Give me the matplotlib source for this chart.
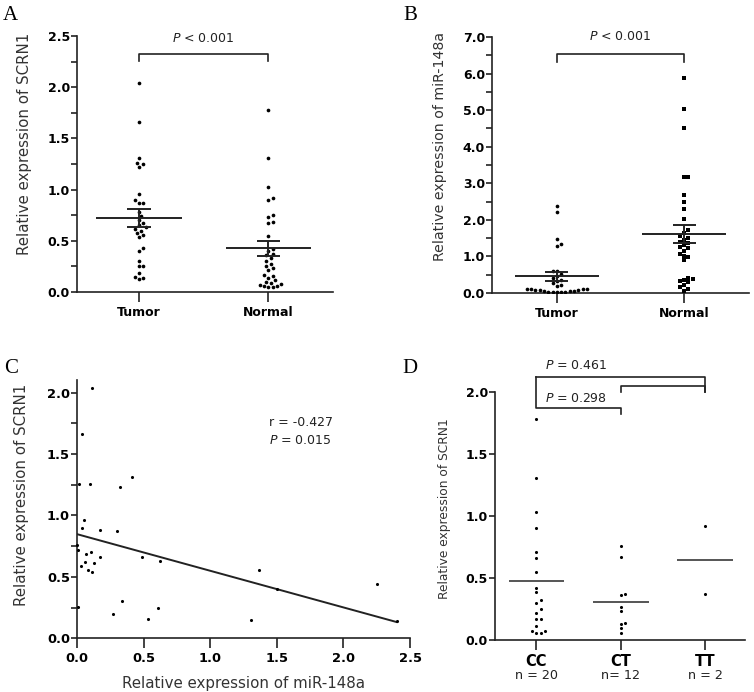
import numpy as np
import matplotlib.pyplot as plt
from matplotlib.ticker import MultipleLocator

plt.rcParams['font.family'] = 'DejaVu Sans'
plt.rcParams['mathtext.fontset'] = 'dejavusans'

# A: SCRN1 expression, tumor vs normal
scrn1_tumor = [2.04, 1.66, 1.31, 1.26, 1.25, 1.22, 0.96, 0.90, 0.87, 0.87,
               0.78, 0.74, 0.70, 0.67, 0.65, 0.63, 0.62, 0.60, 0.58, 0.56,
               0.54, 0.43, 0.40, 0.30, 0.25, 0.25, 0.19, 0.15, 0.14, 0.13]
scrn1_normal = [1.78, 1.31, 1.03, 0.92, 0.90, 0.75, 0.73, 0.68, 0.67, 0.55,
                0.42, 0.40, 0.37, 0.36, 0.33, 0.30, 0.27, 0.25, 0.23, 0.21,
                0.17, 0.16, 0.14, 0.12, 0.10, 0.09, 0.08, 0.07, 0.06, 0.06,
                0.05, 0.05]

# B: miR-148a expression, tumor vs normal
mir_tumor = [2.38, 2.22, 1.48, 1.35, 1.28, 0.60, 0.60, 0.52, 0.46, 0.40,
             0.36, 0.33, 0.28, 0.22, 0.18, 0.12, 0.11, 0.10, 0.10, 0.09,
             0.08, 0.07, 0.06, 0.05, 0.05, 0.04, 0.04, 0.03, 0.03, 0.02]
mir_normal = [5.88, 5.04, 4.51, 3.16, 3.16, 2.68, 2.48, 2.29, 2.02, 1.72,
              1.65, 1.56, 1.50, 1.46, 1.40, 1.38, 1.31, 1.25, 1.22, 1.16,
              1.08, 1.02, 0.99, 0.90, 0.42, 0.38, 0.35, 0.32, 0.30, 0.22,
              0.16, 0.12, 0.06]
group_names = ['Tumor', 'Normal']

# C: correlation miR-148a vs SCRN1
corr_mir = [0.11, 0.04, 0.015, 0.10, 0.41, 0.32, 0.05, 0.035, 0.175, 0.30,
            0.003, 0.005, 0.07, 0.105, 0.175, 0.03, 0.06, 0.13, 0.08, 0.11,
            0.49, 0.62, 0.01, 0.34, 0.27, 0.53, 0.61, 1.37, 1.50, 1.31,
            2.25, 2.40]
corr_scrn1 = [2.04, 1.66, 1.26, 1.26, 1.31, 1.23, 0.96, 0.90, 0.88, 0.87,
              0.76, 0.72, 0.69, 0.705, 0.66, 0.59, 0.62, 0.61, 0.556, 0.54,
              0.66, 0.63, 0.255, 0.30, 0.20, 0.155, 0.25, 0.556, 0.40, 0.15,
              0.44, 0.14]

# D: SCRN1 by genotype
genotypes = ['CC', 'CT', 'TT']
genotype_n = ['n = 20', 'n= 12', 'n = 2']
scrn1_cc = [1.78, 1.31, 1.03, 0.90, 0.71, 0.66, 0.55, 0.42, 0.385, 0.32,
            0.30, 0.25, 0.22, 0.17, 0.17, 0.115, 0.075, 0.06, 0.06, 0.07]
scrn1_ct = [0.76, 0.67, 0.37, 0.36, 0.27, 0.23, 0.14, 0.13, 0.095, 0.06]
scrn1_tt = [0.92, 0.37]

INK = '#222222'
W, H = 754, 692
fig = plt.figure(figsize=(W / 100, H / 100), dpi=100)


def make_axes(l, t, r, b):
    # pixel box -> figure fraction
    ax = fig.add_axes([l / W, (H - b) / H, (r - l) / W, (b - t) / H])
    for s in ['top', 'right']:
        ax.spines[s].set_visible(False)
    for s in ['left', 'bottom']:
        ax.spines[s].set_linewidth(1.2)
        ax.spines[s].set_color(INK)
    ax.tick_params(axis='y', which='both', direction='out', length=4, width=1.2,
                   color=INK, labelsize=9, pad=1)
    ax.tick_params(axis='x', direction='out', length=7, width=1.2, color=INK,
                   labelsize=9, pad=3)
    return ax


def y_ticks(ax, top, step, minor=None):
    t = np.arange(0, top + 1e-9, step)
    ax.set_yticks(t)
    ax.set_yticklabels([f'{v:.1f}' for v in t], fontweight='bold')
    if minor:
        ax.yaxis.set_minor_locator(MultipleLocator(minor))


def swarm_x(ax, vals, xc, step=4.3):
    # simple beeswarm: place points bottom-up, nudging sideways on overlap
    bb = ax.get_position()
    x0, x1 = ax.get_xlim()
    y0, y1 = ax.get_ylim()
    ppx = bb.width * W / (x1 - x0)
    ppy = bb.height * H / (y1 - y0)
    vals = np.asarray(vals, float)
    xs = np.zeros(len(vals))
    placed = []
    for i in np.argsort(vals):
        py = vals[i] * ppy
        k = 0
        while True:
            cands = [0.0] if k == 0 else [k * step / 2, -k * step / 2]
            ok = None
            for c in cands:
                if all((c - qx) ** 2 + (py - qy) ** 2 >= step ** 2 for qx, qy in placed):
                    ok = c
                    break
            if ok is not None:
                break
            k += 1
        placed.append((ok, py))
        xs[i] = xc + ok / ppx
    return xs


def dot_group(ax, vals, xc, size=7, marker='o', sem=True, half=0.33, lc=INK):
    xs = swarm_x(ax, vals, xc)
    ax.scatter(xs, vals, s=size, marker=marker, color='black', lw=0, zorder=3)
    m = np.mean(vals)
    ax.hlines(m, xc - half, xc + half, color=lc, lw=1.4, zorder=4)
    if sem:
        e = np.std(vals, ddof=1) / np.sqrt(len(vals))
        ax.vlines(xc, m - e, m + e, color=INK, lw=1.4, zorder=4)
        ax.hlines([m - e, m + e], xc - 0.09, xc + 0.09, color=INK, lw=1.4, zorder=4)


def bracket(ax, xa, xb, y, ya, yb):
    ax.plot([xa, xa, xb, xb], [ya, y, y, yb], color=INK, lw=1.2, clip_on=False)


# ---------- A ----------
axA = make_axes(77, 36, 333, 292)
y_ticks(axA, 2.5, 0.5, 0.25)
axA.set_ylim(0, 2.5)
axA.set_xlim(-0.48, 1.5)
axA.set_xticks([0, 1])
axA.set_xticklabels(group_names, fontweight='bold')
dot_group(axA, scrn1_tumor, 0)
dot_group(axA, scrn1_normal, 1)
bracket(axA, 0, 1, 2.32, 2.26, 2.26)
axA.text(0.5, 2.48, r'$\it{P}$ < 0.001', ha='center', va='center', fontsize=9, color=INK)
axA.set_ylabel('Relative expression of SCRN1', fontsize=10.8, color='#333333')
axA.yaxis.set_label_coords(-0.176, 0.578)

# ---------- B ----------
axB = make_axes(492, 37, 749, 293)
y_ticks(axB, 7, 1, 0.5)
axB.set_ylim(0, 7)
axB.set_xlim(-0.51, 1.51)
axB.set_xticks([0, 1])
axB.set_xticklabels(group_names, fontweight='bold')
dot_group(axB, mir_tumor, 0)
dot_group(axB, mir_normal, 1, marker='s', size=6)
bracket(axB, 0, 1, 6.53, 6.33, 6.33)
axB.text(0.5, 7.0, r'$\it{P}$ < 0.001', ha='center', va='center', fontsize=9, color=INK)
axB.set_ylabel('Relative expression of miR-148a', fontsize=10.2, color='#333333')
axB.yaxis.set_label_coords(-0.177, 0.574)

# ---------- C ----------
axC = make_axes(77, 380.4, 410, 638.3)
y_ticks(axC, 2.0, 0.5, 0.25)
axC.set_ylim(0, 2.1)
axC.set_xlim(0, 2.5)
xt = np.arange(0, 2.51, 0.5)
axC.set_xticks(xt)
axC.set_xticklabels([f'{v:.1f}' for v in xt], fontweight='bold')
axC.tick_params(labelsize=9.4)
axC.scatter(corr_mir, corr_scrn1, s=5, color='black', lw=0, zorder=3, clip_on=False)
slope, icpt = np.polyfit(corr_mir, corr_scrn1, 1)
xx = np.array([0, max(corr_mir)])
axC.plot(xx, icpt + slope * xx, color=INK, lw=1.4)
axC.text(1.44, 1.76, 'r = -0.427', ha='left', va='center', fontsize=9, color=INK)
axC.text(1.44, 1.61, r'$\it{P}$ = 0.015', ha='left', va='center', fontsize=9, color=INK)
axC.set_ylabel('Relative expression of SCRN1', fontsize=10.8, color='#333333')
axC.yaxis.set_label_coords(-0.143, 0.558)
axC.set_xlabel('Relative expression of miR-148a', fontsize=10.8, color='#333333')
axC.xaxis.set_label_coords(0.5, -0.146)

# ---------- D ----------
axD = make_axes(495, 392, 745, 640)
y_ticks(axD, 2.0, 0.5)
axD.set_ylim(0, 2.0)
axD.set_xlim(-0.49, 2.47)
axD.set_xticks([0, 1, 2])
axD.set_xticklabels(genotypes, fontweight='bold', fontsize=10.5)
for i, grp in enumerate([scrn1_cc, scrn1_ct, scrn1_tt]):
    dot_group(axD, grp, i, size=5, sem=False, lc='#555555')
    axD.text(i, -0.29, genotype_n[i], ha='center', va='center', fontsize=9.2,
             color=INK, clip_on=False)
bracket(axD, 0, 1, 1.87, 2.12, 1.82)
bracket(axD, 1, 2, 2.05, 2.0, 2.0)
axD.plot([0, 2, 2], [2.12, 2.12, 2.0], color=INK, lw=1.2, clip_on=False)
axD.text(0.1, 2.21, r'$\it{P}$ = 0.461', ha='left', va='center', fontsize=9, color=INK)
axD.text(0.1, 1.95, r'$\it{P}$ = 0.298', ha='left', va='center', fontsize=9, color=INK)
axD.set_ylabel('Relative expression of SCRN1', fontsize=8.8, color='#333333')
axD.yaxis.set_label_coords(-0.176, 0.528)

# panel letters
for lab, x, y in [('A', 3, 20), ('B', 403, 20), ('C', 4, 373), ('D', 402, 373)]:
    fig.text(x / W, 1 - y / H, lab, fontsize=15, family='Liberation Serif',
             ha='left', va='baseline')

fig.savefig('out.png', dpi=100)
